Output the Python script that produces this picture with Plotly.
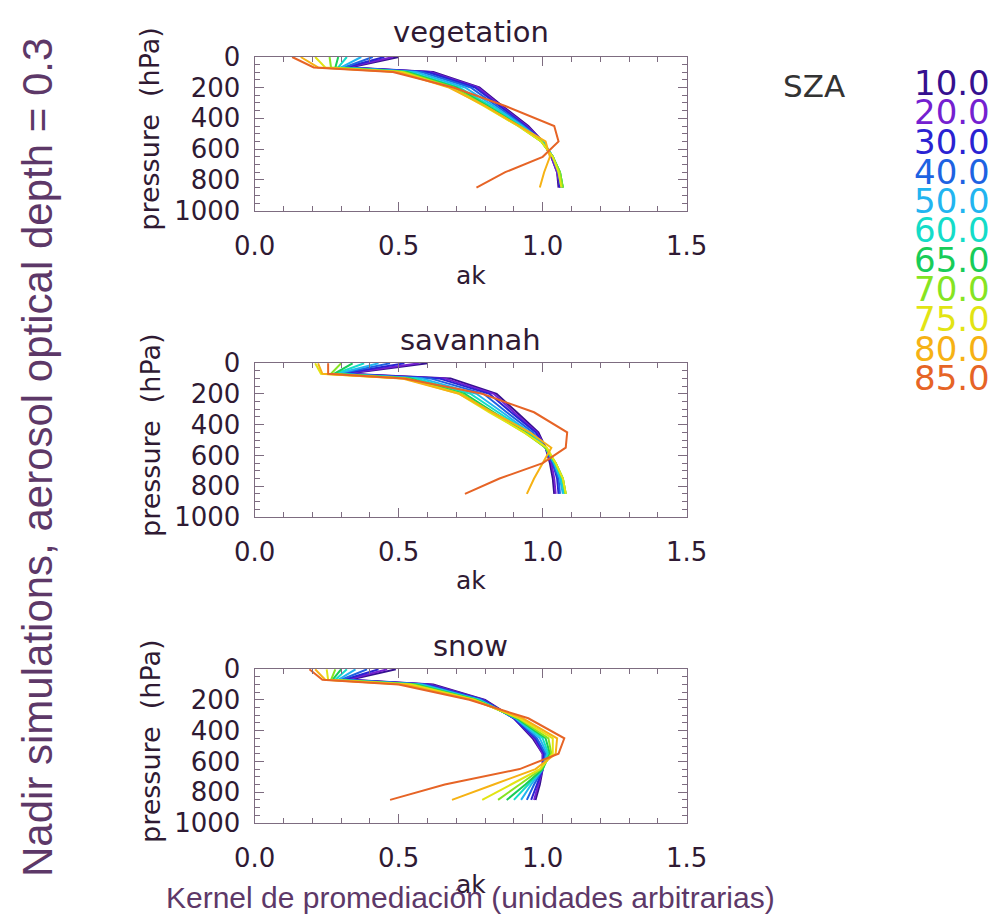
import plotly.graph_objects as go

# ---------------- data ----------------
PRESSURE = [2, 70, 100, 200, 320, 450, 550, 650, 750, 850]   # hPa levels
SZA = ["10.0", "20.0", "30.0", "40.0", "50.0", "60.0", "65.0", "70.0", "75.0", "80.0", "85.0"]
COLORS = ["#35108f", "#7420d0", "#2a22d2", "#1e62e2", "#22b4f0", "#14dcc8",
          "#18cc58", "#86e422", "#e2e414", "#f6b214", "#e66426"]
PANELS = ["vegetation", "savannah", "snow"]

VEGETATION = [
    [0.50, 0.33, 0.62, 0.780, 0.860, 0.950, 1.000, 1.030, 1.050, 1.055],
    [0.48, 0.32, 0.61, 0.775, 0.855, 0.945, 1.000, 1.030, 1.050, 1.060],
    [0.45, 0.315, 0.60, 0.765, 0.850, 0.940, 1.000, 1.035, 1.055, 1.060],
    [0.41, 0.31, 0.58, 0.750, 0.840, 0.935, 1.000, 1.035, 1.055, 1.065],
    [0.37, 0.30, 0.56, 0.730, 0.830, 0.930, 1.000, 1.035, 1.055, 1.065],
    [0.32, 0.29, 0.54, 0.710, 0.820, 0.925, 1.000, 1.035, 1.060, 1.070],
    [0.29, 0.28, 0.53, 0.700, 0.810, 0.920, 0.995, 1.035, 1.060, 1.070],
    [0.26, 0.265, 0.52, 0.690, 0.800, 0.915, 0.995, 1.035, 1.060, 1.070],
    [0.21, 0.245, 0.51, 0.680, 0.795, 0.915, 0.995, 1.035, 1.055, 1.065],
    [0.16, 0.22, 0.50, 0.675, 0.800, 0.920, 1.010, 1.025, 1.005, 0.990],
    [0.13, 0.205, 0.48, 0.690, 0.870, 1.040, 1.055, 1.000, 0.870, 0.770],
]
SAVANNAH = [
    [0.60, 0.32, 0.68, 0.840, 0.910, 0.985, 1.010, 1.025, 1.035, 1.040],
    [0.57, 0.31, 0.66, 0.830, 0.900, 0.980, 1.010, 1.030, 1.040, 1.045],
    [0.52, 0.30, 0.64, 0.815, 0.890, 0.975, 1.010, 1.035, 1.050, 1.055],
    [0.47, 0.29, 0.61, 0.795, 0.875, 0.965, 1.010, 1.035, 1.055, 1.060],
    [0.43, 0.285, 0.58, 0.770, 0.860, 0.955, 1.010, 1.040, 1.060, 1.070],
    [0.38, 0.28, 0.56, 0.750, 0.845, 0.950, 1.010, 1.040, 1.065, 1.075],
    [0.34, 0.275, 0.54, 0.730, 0.830, 0.940, 1.010, 1.045, 1.070, 1.080],
    [0.30, 0.265, 0.53, 0.720, 0.820, 0.935, 1.010, 1.045, 1.070, 1.080],
    [0.21, 0.23, 0.52, 0.710, 0.815, 0.935, 1.015, 1.045, 1.070, 1.080],
    [0.22, 0.235, 0.51, 0.710, 0.825, 0.955, 1.030, 1.000, 0.970, 0.945],
    [0.255, 0.255, 0.52, 0.790, 0.970, 1.085, 1.080, 1.000, 0.850, 0.730],
]
SNOW = [
    [0.49, 0.33, 0.62, 0.800, 0.900, 0.965, 1.000, 1.000, 0.990, 0.975],
    [0.46, 0.32, 0.61, 0.795, 0.900, 0.970, 1.000, 1.000, 0.985, 0.970],
    [0.43, 0.31, 0.60, 0.790, 0.900, 0.975, 1.005, 1.000, 0.980, 0.960],
    [0.39, 0.30, 0.59, 0.785, 0.905, 0.980, 1.010, 1.000, 0.970, 0.945],
    [0.35, 0.29, 0.58, 0.780, 0.905, 0.990, 1.015, 1.000, 0.960, 0.925],
    [0.32, 0.28, 0.57, 0.775, 0.910, 1.000, 1.020, 1.000, 0.950, 0.900],
    [0.30, 0.27, 0.56, 0.770, 0.910, 1.010, 1.025, 1.000, 0.940, 0.875],
    [0.28, 0.265, 0.55, 0.765, 0.915, 1.020, 1.030, 0.995, 0.920, 0.845],
    [0.25, 0.255, 0.54, 0.760, 0.920, 1.035, 1.035, 0.990, 0.890, 0.790],
    [0.21, 0.245, 0.52, 0.755, 0.930, 1.050, 1.045, 0.975, 0.830, 0.685],
    [0.19, 0.235, 0.50, 0.745, 0.950, 1.075, 1.055, 0.920, 0.660, 0.470],
]
PANEL_DATA = [VEGETATION, SAVANNAH, SNOW]

X_TICKS = [0.0, 0.5, 1.0, 1.5]
Y_TICKS = [0, 200, 400, 600, 800, 1000]

# ---------------- layout geometry ----------------
W, H = 992, 917
BOX_X = (254.7, 686.7)
BOX_TOPS = [56.7, 363.0, 669.0]
BOX_H = 154.0
TITLE_Y = [32, 340, 646]
AK_Y = [275, 580, 884]

def px(x):
    return x / W

def py(y):
    return 1 - y / H

TXT = "#2f1a33"
BIG = "#5d3868"
LINE = "#7d6c80"
FONT = "DejaVu Sans"

fig = go.Figure()
layout = dict(
    width=W, height=H, margin=dict(l=0, r=0, t=0, b=0, autoexpand=False),
    paper_bgcolor="white", plot_bgcolor="white", showlegend=False,
)
annotations = []

for k, (name, data) in enumerate(zip(PANELS, PANEL_DATA)):
    sfx = "" if k == 0 else str(k + 1)
    for j, s in enumerate(SZA):
        fig.add_trace(go.Scatter(
            x=data[j], y=PRESSURE, mode="lines", name=s,
            line=dict(color=COLORS[j], width=2),
            xaxis="x" + sfx, yaxis="y" + sfx, hoverinfo="skip",
        ))
    top = BOX_TOPS[k]
    bot = top + BOX_H
    common = dict(
        showline=True, linecolor=LINE, linewidth=1.2, mirror="ticks",
        ticks="inside", tickcolor=LINE, tickwidth=1.2, ticklen=9,
        showgrid=False, zeroline=False, automargin=False,
        tickfont=dict(family=FONT, size=26, color=TXT),
    )
    layout["xaxis" + sfx] = dict(
        domain=[px(BOX_X[0]), px(BOX_X[1])], anchor="y" + sfx,
        range=[0, 1.5], tickvals=X_TICKS, ticktext=[f"{v:.1f}" for v in X_TICKS],
        minor=dict(dtick=0.1, ticks="inside", ticklen=5, tickcolor=LINE),
        ticklabelstandoff=12, **common,
    )
    layout["yaxis" + sfx] = dict(
        domain=[py(bot), py(top)], anchor="x" + sfx,
        range=[1000, 0], tickvals=Y_TICKS, ticktext=[str(v) for v in Y_TICKS],
        minor=dict(dtick=50, ticks="inside", ticklen=5, tickcolor=LINE),
        ticklabelstandoff=8, **common,
    )
    cx = px((BOX_X[0] + BOX_X[1]) / 2)
    annotations.append(dict(text=name, x=cx, y=py(TITLE_Y[k]), xref="paper", yref="paper",
                            showarrow=False, xanchor="center", yanchor="middle",
                            font=dict(family=FONT, size=29, color=TXT)))
    annotations.append(dict(text="ak", x=cx, y=py(AK_Y[k]), xref="paper", yref="paper",
                            showarrow=False, xanchor="center", yanchor="middle",
                            font=dict(family=FONT, size=25, color=TXT)))
    annotations.append(dict(text="pressure  (hPa)", x=px(150), y=py((top + bot) / 2 - 5),
                            xref="paper", yref="paper", showarrow=False, textangle=-90,
                            xanchor="center", yanchor="middle",
                            font=dict(family=FONT, size=27, color=TXT)))

# SZA legend
annotations.append(dict(text="SZA", x=px(781), y=py(86), xref="paper", yref="paper",
                        showarrow=False, xanchor="left", yanchor="middle",
                        font=dict(family=FONT, size=31, color="#333333")))
for j, s in enumerate(SZA):
    annotations.append(dict(text=s, x=px(992), y=py(83 + j * 29.5), xref="paper", yref="paper",
                            showarrow=False, xanchor="right", yanchor="middle",
                            font=dict(family=FONT, size=34, color=COLORS[j])))

# big titles
annotations.append(dict(text="Nadir simulations, aerosol optical depth = 0.3",
                        x=px(37), y=py(458), xref="paper", yref="paper", showarrow=False,
                        textangle=-90, xanchor="center", yanchor="middle",
                        font=dict(family="Liberation Sans Narrow, Liberation Sans", size=42, color=BIG)))
annotations.append(dict(text="Kernel de promediación (unidades arbitrarias)",
                        x=px(470), y=py(897), xref="paper", yref="paper", showarrow=False,
                        xanchor="center", yanchor="middle",
                        font=dict(family="Liberation Sans Narrow, Liberation Sans", size=30, color=BIG)))

layout["annotations"] = annotations
fig.update_layout(**layout)
fig.write_html("out.html")
